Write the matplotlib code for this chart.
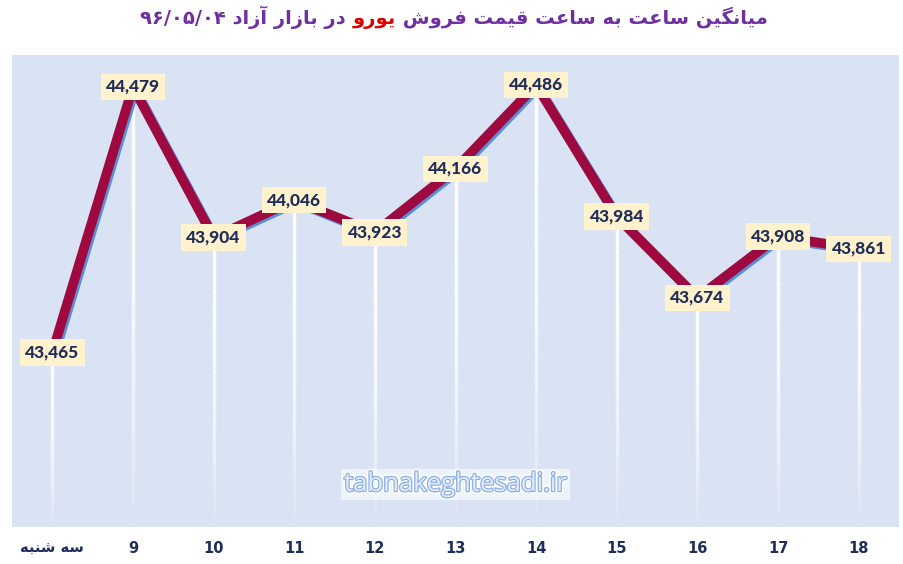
import matplotlib

matplotlib.use("Agg")
import matplotlib.pyplot as plt
import matplotlib.patheffects as pe
import numpy as np


# hourly values of the euro in the free market
days = ["سه شنبه", "9", "10", "11", "12", "13", "14", "15", "16", "17", "18"]
prices = [43465, 44479, 43904, 44046, 43923, 44166, 44486, 43984, 43674, 43908, 43861]

title_start = "میانگین ساعت به ساعت قیمت فروش"
title_word = "یورو"
title_end = "در بازار آزاد"
title_date = "۹۶/۰۵/۰۴"
watermark = "tabnakeghtesadi.ir"

BG = "#DAE3F3"
LINE = "#9E0A3F"
SHADOW = "#5B8FD6"
NAVY = "#1F2D5A"
PURPLE = "#7030A0"

# presentation forms: isolated, final, initial, medial (None -> right joining only)
FORMS = {
    "ا": ("\uFE8D", "\uFE8E", None, None),
    "آ": ("\uFE81", "\uFE82", None, None),
    "ب": ("\uFE8F", "\uFE90", "\uFE91", "\uFE92"),
    "ت": ("\uFE95", "\uFE96", "\uFE97", "\uFE98"),
    "د": ("\uFEA9", "\uFEAA", None, None),
    "ر": ("\uFEAD", "\uFEAE", None, None),
    "ز": ("\uFEAF", "\uFEB0", None, None),
    "س": ("\uFEB1", "\uFEB2", "\uFEB3", "\uFEB4"),
    "ش": ("\uFEB5", "\uFEB6", "\uFEB7", "\uFEB8"),
    "ع": ("\uFEC9", "\uFECA", "\uFECB", "\uFECC"),
    "ف": ("\uFED1", "\uFED2", "\uFED3", "\uFED4"),
    "ق": ("\uFED5", "\uFED6", "\uFED7", "\uFED8"),
    "م": ("\uFEE1", "\uFEE2", "\uFEE3", "\uFEE4"),
    "ن": ("\uFEE5", "\uFEE6", "\uFEE7", "\uFEE8"),
    "ه": ("\uFEE9", "\uFEEA", "\uFEEB", "\uFEEC"),
    "و": ("\uFEED", "\uFEEE", None, None),
    "ی": ("\uFBFC", "\uFBFD", "\uFBFE", "\uFBFF"),
    "گ": ("\uFB92", "\uFB93", "\uFB94", "\uFB95"),
}


def shape_word(word: str) -> str:
    out = []
    for i, ch in enumerate(word):
        if ch not in FORMS:
            out.append(ch)
            continue
        prev = word[i - 1] if i > 0 else None
        nxt = word[i + 1] if i + 1 < len(word) else None
        join_prev = prev in FORMS and FORMS[prev][2] is not None
        join_next = FORMS[ch][2] is not None and nxt in FORMS
        iso, fin, ini, med = FORMS[ch]
        if join_prev and join_next:
            out.append(med)
        elif join_prev:
            out.append(fin)
        elif join_next:
            out.append(ini)
        else:
            out.append(iso)
    return "".join(out)


def rtl(text: str) -> str:
    shaped = " ".join(shape_word(w) for w in text.split(" "))
    return shaped[::-1]


fig = plt.figure(figsize=(9.04, 5.64), dpi=100)
ax = fig.add_axes([12 / 904, 37 / 564, 887 / 904, 472 / 564])
ax.set_facecolor(BG)
for spine in ax.spines.values():
    spine.set_visible(False)

x = np.arange(len(prices))
ymin, ymax = 42800, 44600
ax.set_xlim(-0.5, len(prices) - 0.5)
ax.set_ylim(ymin, ymax)

# fading white drop lines
steps = 40
for xi, yi in zip(x, prices):
    edges = np.linspace(yi, ymin, steps + 1)
    for k in range(steps):
        ax.plot([xi, xi], [edges[k], edges[k + 1]], color="white",
                lw=2.5, alpha=1 - (k / steps) ** 2, solid_capstyle="butt", zorder=2)

ax.plot(x, prices, color=LINE, lw=7, solid_joinstyle="miter", zorder=3,
        path_effects=[pe.SimpleLineShadow(offset=(1.5, -1.5), shadow_color=SHADOW, alpha=1),
                      pe.Normal()])

for xi, yi in zip(x, prices):
    ax.text(xi, yi, f"{yi:,}", ha="center", va="center", fontsize=12.5,
            fontweight="black", color=NAVY, family="Lato", zorder=5,
            bbox=dict(boxstyle="square,pad=0.3", fc="#FFF2CC", ec="none"))

ax.set_xticks(x)
ax.set_xticklabels([rtl(d) if not d.isdigit() else d for d in days],
                   fontsize=10.5, fontweight="bold", color=NAVY)
ax.tick_params(axis="x", length=0, pad=10)
ax.set_yticks([])

ax.text(0.5, 0.09, watermark, transform=ax.transAxes, ha="center", va="center",
        fontsize=18.5, color="#E4ECF7", family="Open Sans", zorder=4,
        bbox=dict(boxstyle="square,pad=0.1", fc="white", ec="none", alpha=0.55),
        path_effects=[pe.Stroke(linewidth=4, foreground="white"),
                      pe.Stroke(linewidth=1.8, foreground="#8BB0E4"),
                      pe.Normal()])

# title in three colored pieces, laid out right-to-left
title_kw = dict(fontsize=14, fontweight="bold", family="DejaVu Sans", va="baseline")
pieces = [
    (title_date + " " + rtl(title_end) + " ", PURPLE),
    (rtl(title_word), "#E00000"),
    (" " + rtl(title_start), PURPLE),
]
renderer = fig.canvas.get_renderer()
texts = [fig.text(0, 0.958, s, color=c, **title_kw) for s, c in pieces]
widths = [t.get_window_extent(renderer).width for t in texts]
cursor = 454 - sum(widths) / 2
for t, w in zip(texts, widths):
    t.set_x(cursor / 904)
    cursor += w

fig.savefig("out.png", dpi=100, facecolor="white")
